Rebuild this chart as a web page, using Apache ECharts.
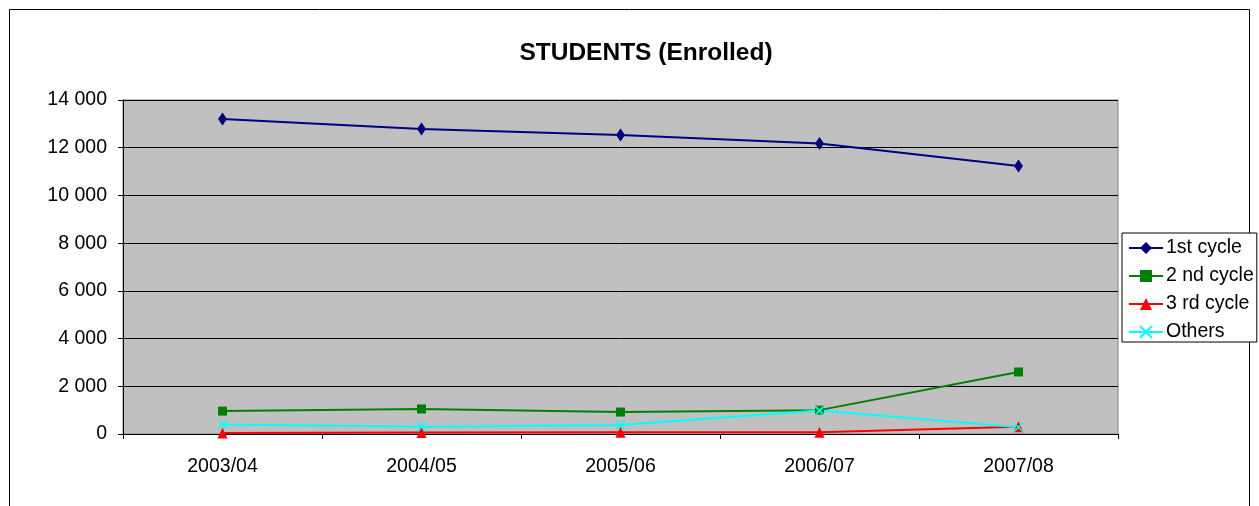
<!DOCTYPE html>
<html>
<head>
<meta charset="utf-8">
<script src="https://cdn.jsdelivr.net/npm/echarts@6/dist/echarts.min.js"></script>
<style>
  html, body { margin: 0; padding: 0; background: #fff; }
  #chart { width: 1259px; height: 506px; }
</style>
</head>
<body>
<div id="chart"></div>
<script>
// Academic years
const years = ['2003/04', '2004/05', '2005/06', '2006/07', '2007/08'];

// Enrolled students per cycle
const firstCycle  = [13200, 12780, 12530, 12180, 11230];
const secondCycle = [960, 1050, 920, 1000, 2600];
const thirdCycle  = [40, 60, 70, 70, 300];
const others      = [400, 300, 380, 980, 280];

const FONT = 'Liberation Sans, Arial, sans-serif';
const LABEL_SIZE = 19.5;
const crossPath = 'path://M0,0 L10,10 M10,0 L0,10';

const chart = echarts.init(document.getElementById('chart'));
chart.setOption({
  animation: false,
  backgroundColor: '#ffffff',
  title: {
    text: 'STUDENTS (Enrolled)',
    left: 641, top: 36, textAlign: 'center',
    textStyle: { fontFamily: FONT, fontSize: 24.5, fontWeight: 'bold', color: '#000' }
  },
  graphic: [{
    type: 'rect', z: -1,
    shape: { x: 9.5, y: 9.5, width: 1240, height: 600 },
    style: { fill: 'none', stroke: '#000', lineWidth: 1 }
  }],
  grid: {
    left: 123, right: 141, top: 100, bottom: 72,
    show: true, backgroundColor: '#c0c0c0', borderColor: '#808080', borderWidth: 1
  },
  legend: {
    orient: 'vertical',
    left: 1122, top: 233,
    padding: [5, 3, 0, 6],
    itemGap: 8,
    itemWidth: 34, itemHeight: 15,
    backgroundColor: '#fff', borderColor: '#000', borderWidth: 1,
    textStyle: { fontFamily: FONT, fontSize: LABEL_SIZE, lineHeight: 20, color: '#000', padding: [0, 0, 0, -2] },
    data: ['1st cycle', '2 nd cycle', '3 rd cycle', 'Others']
  },
  xAxis: {
    type: 'category',
    data: years,
    boundaryGap: true,
    axisLine: { lineStyle: { color: '#000', width: 1 } },
    axisTick: { show: true, length: 5, lineStyle: { color: '#000' } },
    axisLabel: { fontFamily: FONT, fontSize: LABEL_SIZE, color: '#000', margin: 23 }
  },
  yAxis: {
    type: 'value',
    min: 0, max: 14000, interval: 2000,
    axisLine: { show: true, lineStyle: { color: '#000', width: 1 } },
    axisTick: { show: true, length: 5, lineStyle: { color: '#000' } },
    splitLine: { lineStyle: { color: '#000', width: 1 } },
    axisLabel: {
      fontFamily: FONT, fontSize: LABEL_SIZE, color: '#000', margin: 16,
      formatter: v => v >= 1000 ? Math.floor(v / 1000) + ' ' + String(v % 1000).padStart(3, '0') : String(v)
    }
  },
  series: [
    {
      name: '1st cycle', type: 'line', data: firstCycle,
      color: '#000080', symbol: 'diamond', symbolSize: [9, 13],
      lineStyle: { width: 2, color: '#000080' }, itemStyle: { color: '#000080' }
    },
    {
      name: '2 nd cycle', type: 'line', data: secondCycle,
      color: '#008000', symbol: 'rect', symbolSize: 9,
      lineStyle: { width: 2, color: '#008000' }, itemStyle: { color: '#008000' }
    },
    {
      name: '3 rd cycle', type: 'line', data: thirdCycle,
      color: '#ff0000', symbol: 'triangle', symbolSize: [10, 11],
      lineStyle: { width: 2, color: '#ff0000' }, itemStyle: { color: '#ff0000' }
    },
    {
      name: 'Others', type: 'line', data: others,
      color: '#00ffff', symbol: crossPath, symbolSize: 9,
      lineStyle: { width: 2, color: '#00ffff' },
      itemStyle: { color: 'rgba(0,0,0,0)', borderColor: '#00ffff', borderWidth: 1.5 }
    }
  ]
});
</script>
</body>
</html>
